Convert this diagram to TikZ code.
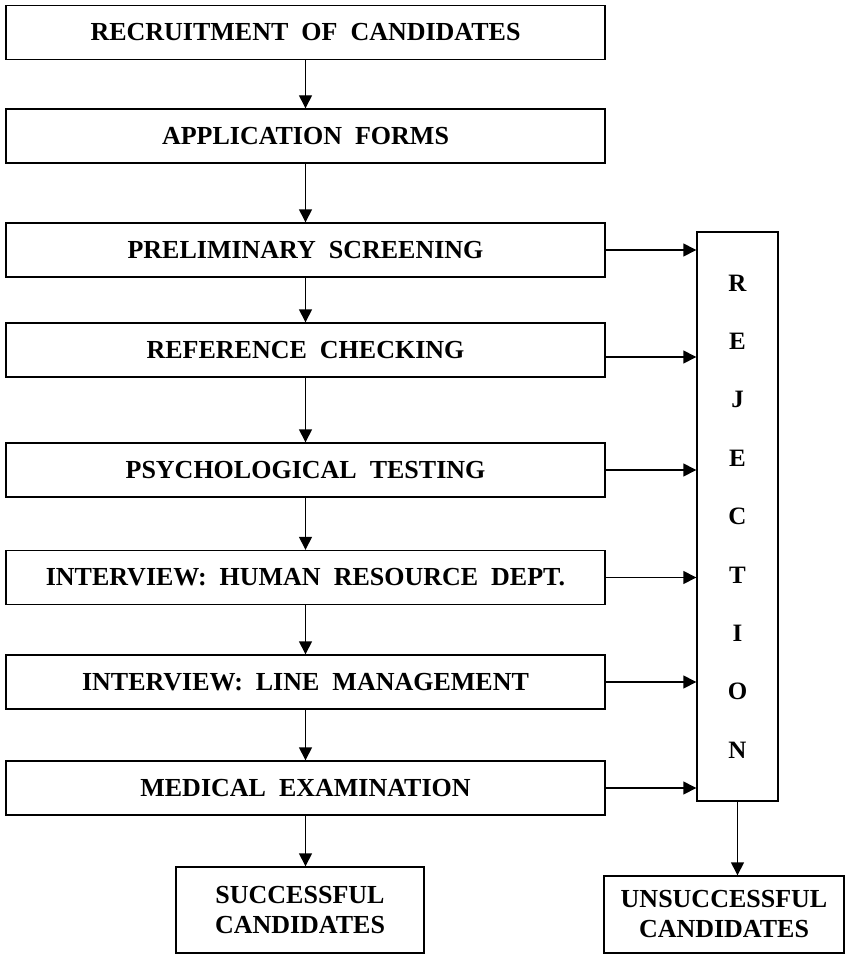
\documentclass[tikz,border=0pt]{standalone}
\usepackage{fontspec}
\setmainfont{Liberation Serif}[WordSpace=2]
\usetikzlibrary{arrows.meta}
\begin{document}
\begin{tikzpicture}[x=1pt,y=1pt,
  stage/.style={draw, line width=1.4pt, minimum width=599pt, minimum height=54pt, inner sep=0pt,
    font=\fontsize{26}{30}\selectfont\bfseries},
  endbox/.style={draw, line width=1.4pt, inner sep=0pt, align=center,
    font=\fontsize{26}{30}\selectfont\bfseries},
  rejbox/.style={draw, line width=1.4pt, inner sep=0pt, align=center, minimum width=81pt, minimum height=569pt,
    font=\fontsize{25}{58.4}\selectfont\bfseries},
  flow/.style={line width=1.4pt, -{Triangle[length=13pt,width=13pt]}}]
\useasboundingbox (0,0) rectangle (846,-955);
\node[stage] (b1) at (305.5,-32.5) {RECRUITMENT OF CANDIDATES};
\node[stage] (b2) at (305.5,-136) {APPLICATION FORMS};
\node[stage] (b3) at (305.5,-250) {PRELIMINARY SCREENING};
\node[stage] (b4) at (305.5,-350) {REFERENCE CHECKING};
\node[stage] (b5) at (305.5,-470) {PSYCHOLOGICAL TESTING};
\node[stage] (b6) at (305.5,-577.5) {INTERVIEW: HUMAN RESOURCE DEPT.};
\node[stage] (b7) at (305.5,-682) {INTERVIEW: LINE MANAGEMENT};
\node[stage] (b8) at (305.5,-788) {MEDICAL EXAMINATION};
\node[rejbox] (rej) at (737.5,-516.5) {R\\E\\J\\E\\C\\T\\I\\O\\N};
\node[endbox, minimum width=248pt, minimum height=86pt] (succ) at (300,-910) {SUCCESSFUL\\CANDIDATES};
\node[endbox, minimum width=240pt, minimum height=77pt] (unsucc) at (724,-914.5) {UNSUCCESSFUL\\CANDIDATES};
\draw[flow] (b1) -- (b2);
\draw[flow] (b2) -- (b3);
\draw[flow] (b3) -- (b4);
\draw[flow] (b4) -- (b5);
\draw[flow] (b5) -- (b6);
\draw[flow] (b6) -- (b7);
\draw[flow] (b7) -- (b8);
\draw[flow] (b8.south) -- (b8.south |- succ.north);
\draw[flow] (rej.south) -- (rej.south |- unsucc.north);
\draw[flow] (b3.east) -- (b3.east -| rej.west);
\draw[flow] ([yshift=-7pt]b4.east) -- ([yshift=-7pt]b4.east -| rej.west);
\foreach \b in {b5,b6,b7,b8}
  \draw[flow] (\b.east) -- (\b.east -| rej.west);
\end{tikzpicture}
\end{document}
